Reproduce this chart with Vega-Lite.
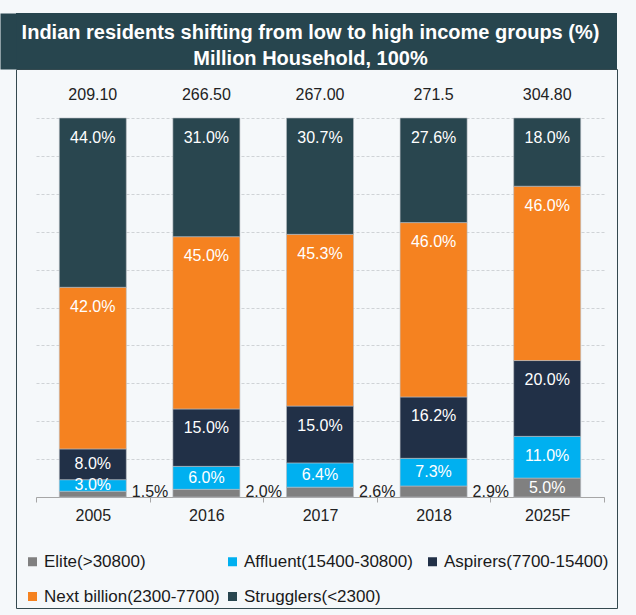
{
  "$schema": "https://vega.github.io/schema/vega-lite/v6.json",
  "background": "#f5f8fa",
  "padding": {"left": 8, "top": 13, "right": 19, "bottom": 7},
  "autosize": {"type": "pad"},
  "config": {"font": "Liberation Sans", "view": {"stroke": null}},
  "spacing": 0,
  "bounds": "flush",
  "datasets": {
    "segs": [
      {"year": "2005", "cat": "Elite(>30800)", "pct": 1.5},
      {"year": "2005", "cat": "Affluent(15400-30800)", "pct": 3.0},
      {"year": "2005", "cat": "Aspirers(7700-15400)", "pct": 8.0},
      {"year": "2005", "cat": "Next billion(2300-7700)", "pct": 42.0},
      {"year": "2005", "cat": "Strugglers(<2300)", "pct": 44.0},
      {"year": "2016", "cat": "Elite(>30800)", "pct": 2.0},
      {"year": "2016", "cat": "Affluent(15400-30800)", "pct": 6.0},
      {"year": "2016", "cat": "Aspirers(7700-15400)", "pct": 15.0},
      {"year": "2016", "cat": "Next billion(2300-7700)", "pct": 45.0},
      {"year": "2016", "cat": "Strugglers(<2300)", "pct": 31.0},
      {"year": "2017", "cat": "Elite(>30800)", "pct": 2.6},
      {"year": "2017", "cat": "Affluent(15400-30800)", "pct": 6.4},
      {"year": "2017", "cat": "Aspirers(7700-15400)", "pct": 15.0},
      {"year": "2017", "cat": "Next billion(2300-7700)", "pct": 45.3},
      {"year": "2017", "cat": "Strugglers(<2300)", "pct": 30.7},
      {"year": "2018", "cat": "Elite(>30800)", "pct": 2.9},
      {"year": "2018", "cat": "Affluent(15400-30800)", "pct": 7.3},
      {"year": "2018", "cat": "Aspirers(7700-15400)", "pct": 16.2},
      {"year": "2018", "cat": "Next billion(2300-7700)", "pct": 46.0},
      {"year": "2018", "cat": "Strugglers(<2300)", "pct": 27.6},
      {"year": "2025F", "cat": "Elite(>30800)", "pct": 5.0},
      {"year": "2025F", "cat": "Affluent(15400-30800)", "pct": 11.0},
      {"year": "2025F", "cat": "Aspirers(7700-15400)", "pct": 20.0},
      {"year": "2025F", "cat": "Next billion(2300-7700)", "pct": 46.0},
      {"year": "2025F", "cat": "Strugglers(<2300)", "pct": 18.0}
    ],
    "totals": [
      {"year": "2005", "total": "209.10"},
      {"year": "2016", "total": "266.50"},
      {"year": "2017", "total": "267.00"},
      {"year": "2018", "total": "271.5"},
      {"year": "2025F", "total": "304.80"}
    ]
  },
  "vconcat": [
    {
      "width": 601,
      "height": 56,
      "view": {"fill": "#27454e", "stroke": null},
      "title": {
        "text": ["Indian residents shifting from low to high income groups (%)", "Million Household, 100%"],
        "color": "#ffffff",
        "fontSize": 20,
        "fontWeight": "bold",
        "font": "Liberation Sans",
        "anchor": "middle",
        "lineHeight": 26,
        "dx": -6,
        "offset": -56
      },
      "data": {"values": []},
      "mark": "text",
      "encoding": {
        "y": {
          "field": "v",
          "type": "quantitative",
          "scale": {"domain": [0, 1]},
          "axis": {"labels": false, "ticks": false, "grid": false, "title": null, "domainWidth": 16, "domainColor": "#27454e", "offset": 8, "domainCap": "butt"}
        }
      }
    },
    {
      "width": 601,
      "height": 539,
      "view": {"fill": "#f5f8fa", "stroke": "#34494f", "strokeWidth": 1},
      "encoding": {
        "x": {
          "field": "year", "type": "nominal", "sort": null,
          "scale": {"range": [20, 588], "paddingInner": 0, "paddingOuter": 0},
          "axis": {"title": null, "labelAngle": 0, "labelFontSize": 16, "labelColor": "#222222", "labelPadding": 5, "domainColor": "#a6a6a6", "tickColor": "#a6a6a6", "tickSize": 5, "tickBand": "extent", "grid": false, "offset": -111}
        }
      },
      "layer": [
        {
          "data": {"name": "segs"},
          "transform": [
            {"stack": "pct", "groupby": ["year"], "offset": "normalize", "as": ["y0", "y1"]},
            {"calculate": "datum.y1 - min(0.0515, (datum.y1 - datum.y0) / 2)", "as": "ly"},
            {"calculate": "format(datum.pct, '.1f') + '%'", "as": "lab"}
          ],
          "layer": [
            {
              "mark": {"type": "bar", "width": {"band": 0.59}, "stroke": "#b9bec2", "strokeWidth": 0.6},
              "encoding": {
                "y": {
                  "field": "y1", "type": "quantitative",
                  "scale": {"domain": [0, 1], "range": [428, 49]},
                  "axis": {"title": null, "labels": false, "ticks": false, "domain": false, "grid": true, "gridColor": "#cfd3d6", "gridDash": [3, 2], "values": [0, 0.1, 0.2, 0.3, 0.4, 0.5, 0.6, 0.7, 0.8, 0.9, 1]}
                },
                "y2": {"field": "y0"},
                "color": {
                  "field": "cat", "type": "nominal",
                  "scale": {
                    "domain": ["Elite(>30800)", "Affluent(15400-30800)", "Aspirers(7700-15400)", "Next billion(2300-7700)", "Strugglers(<2300)"],
                    "range": ["#808080", "#00b0f0", "#213047", "#f58220", "#29464f"]
                  },
                  "legend": {
                    "orient": "none", "legendX": 8, "legendY": 540, "direction": "horizontal", "columns": 3, "gridAlign": "all",
                    "symbolType": "square", "symbolSize": 81, "symbolStrokeWidth": 0, "labelFontSize": 17, "labelColor": "#1a1a1a",
                    "labelFont": "Liberation Sans", "columnPadding": 4, "rowPadding": 17, "title": null, "labelLimit": 300, "labelOffset": 3
                  }
                }
              }
            },
            {
              "transform": [{"filter": "datum.cat != 'Elite(>30800)' || datum.year == '2025F'"}],
              "mark": {"type": "text", "color": "#ffffff", "fontSize": 16, "baseline": "middle"},
              "encoding": {
                "y": {"field": "ly", "type": "quantitative"},
                "text": {"field": "lab"}
              }
            },
            {
              "transform": [{"filter": "datum.cat == 'Elite(>30800)' && datum.year != '2025F'"}],
              "mark": {"type": "text", "color": "#222222", "fontSize": 16, "baseline": "middle", "align": "left", "dx": 39, "dy": -5},
              "encoding": {
                "y": {"field": "y0", "type": "quantitative"},
                "text": {"field": "lab"}
              }
            }
          ]
        },
        {
          "data": {"name": "totals"},
          "mark": {"type": "text", "color": "#222222", "fontSize": 16, "baseline": "middle", "dy": -23},
          "encoding": {
            "y": {"datum": 1, "type": "quantitative"},
            "text": {"field": "total"}
          }
        }
      ]
    }
  ]
}
